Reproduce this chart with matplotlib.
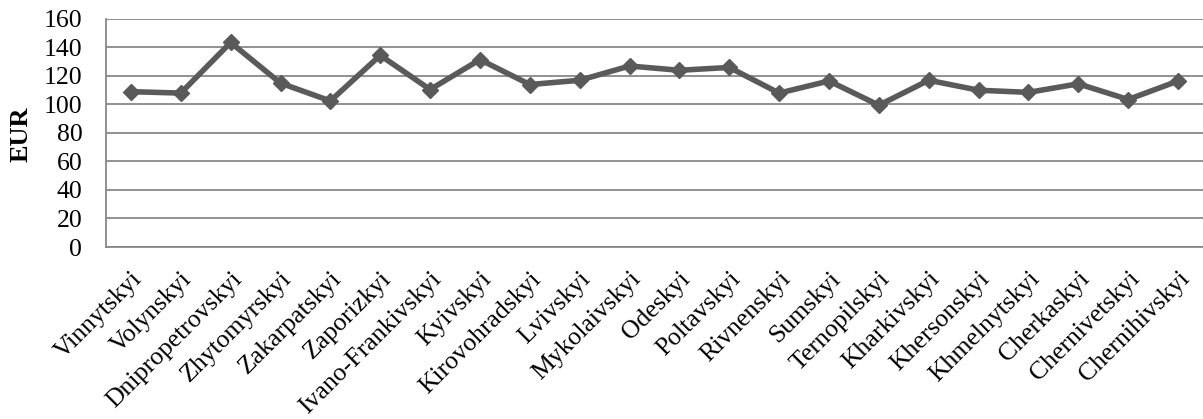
import matplotlib.pyplot as plt

plt.rcParams['font.family'] = ['Liberation Serif', 'DejaVu Serif']

regions = ['Vinnytskyi', 'Volynskyi', 'Dnipropetrovskyi', 'Zhytomyrskyi', 'Zakarpatskyi',
           'Zaporizkyi', 'Ivano-Frankivskyi', 'Kyivskyi', 'Kirovohradskyi', 'Lvivskyi',
           'Mykolaivskyi', 'Odeskyi', 'Poltavskyi', 'Rivnenskyi', 'Sumskyi', 'Ternopilskyi',
           'Kharkivskyi', 'Khersonskyi', 'Khmelnytskyi', 'Cherkaskyi', 'Chernivetskyi',
           'Chernihivskyi']
eur = [109, 108, 143.5, 115, 102.5, 134.5, 110.5, 131.5, 114, 117, 127, 124, 126, 108,
       116.5, 99.5, 117, 110, 108.5, 114.5, 103.5, 116.5]
yticks = [0, 20, 40, 60, 80, 100, 120, 140, 160]

fig = plt.figure(figsize=(12.03, 4.19), dpi=100)
ax = fig.add_axes([0.0881, 0.4105, 0.9119, 0.5442])

x = range(len(regions))
ax.plot(x, eur, color='#5a5a5a', lw=4, marker='D', ms=8.5, mew=1, zorder=3)

ax.set_xlim(-0.5, len(regions) - 0.5)
ax.set_ylim(0, 160)
ax.set_yticks(yticks)
ax.yaxis.grid(True, color='#888888', lw=1.3)
ax.set_axisbelow(True)

ax.set_xticks(list(x))
ax.set_xticklabels(regions, rotation=45, ha='right', rotation_mode='anchor')
ax.tick_params(axis='both', length=0, labelsize=18.5)
ax.tick_params(axis='x', pad=15)
ax.tick_params(axis='y', pad=17)

for side in ['top', 'right']:
    ax.spines[side].set_visible(False)
for side in ['left', 'bottom']:
    ax.spines[side].set_color('#888888')
    ax.spines[side].set_linewidth(1.3)

# axis title sits well left of the tick labels
fig.text(21 / 1203, 1 - 134 / 419, 'EUR', rotation=90, ha='center', va='center',
         fontsize=19, fontweight='bold')

fig.savefig('out.png', dpi=100)
